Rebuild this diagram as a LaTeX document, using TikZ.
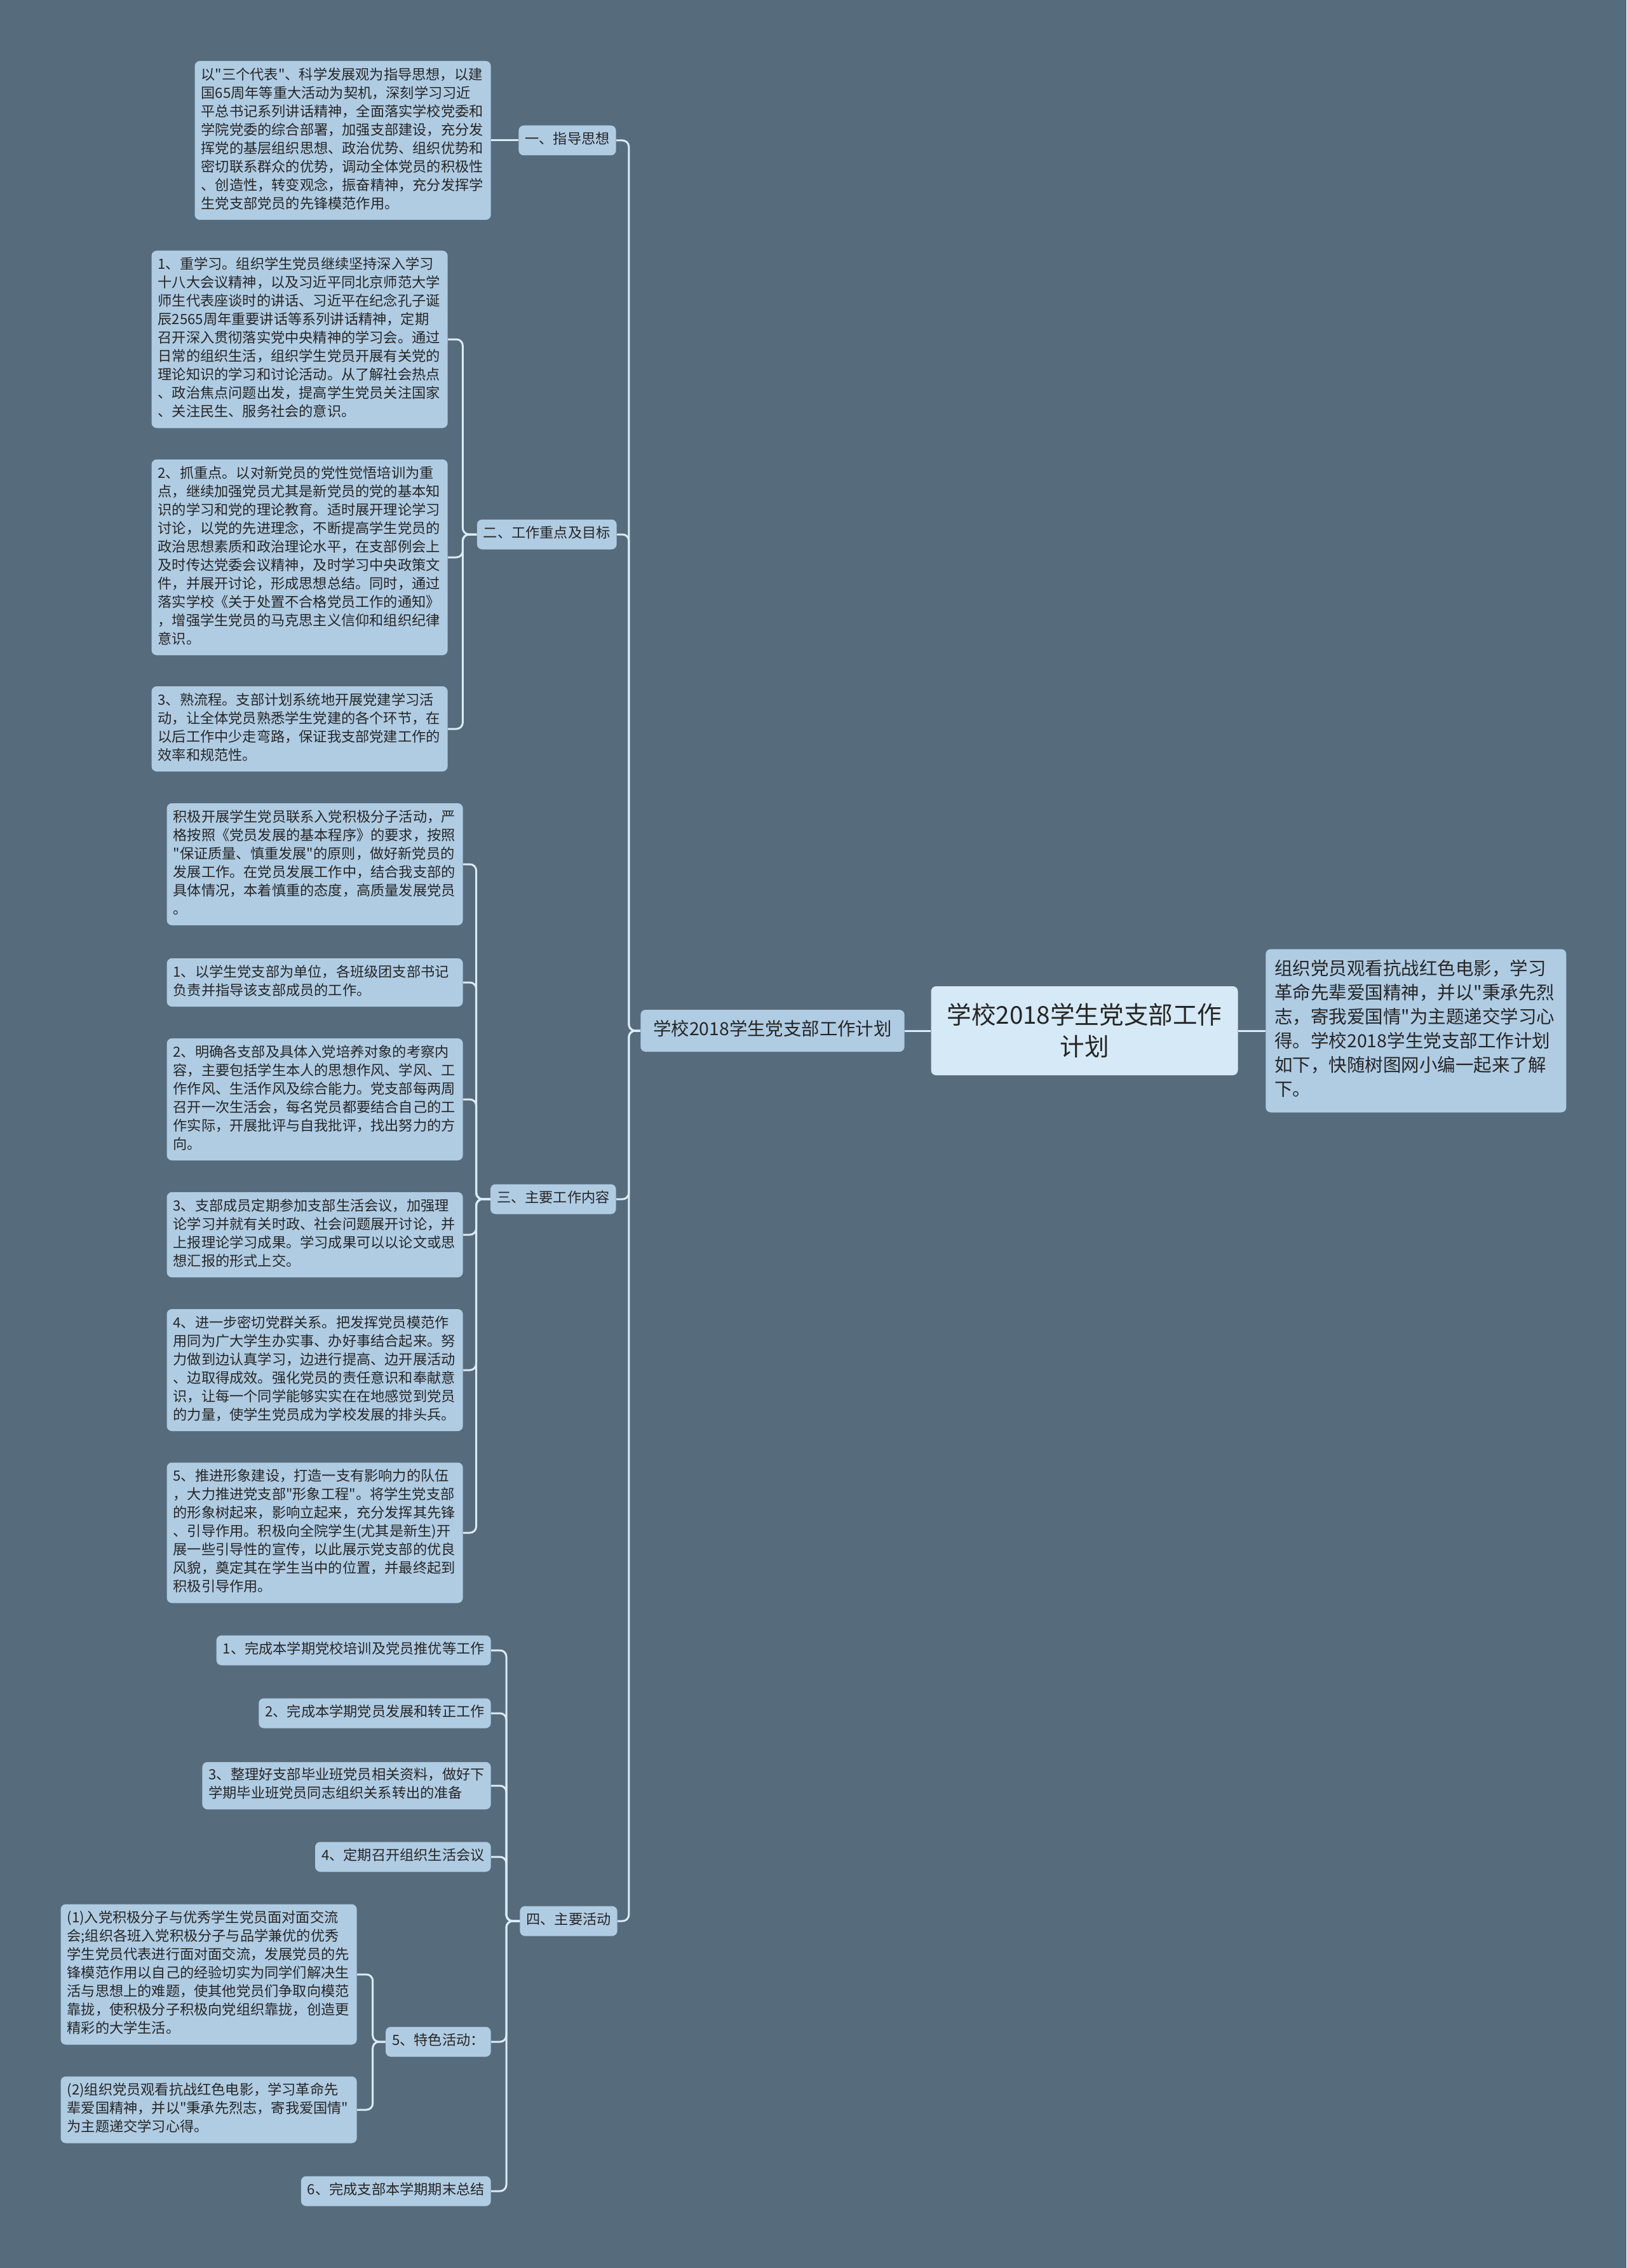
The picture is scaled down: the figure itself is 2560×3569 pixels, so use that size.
\documentclass[tikz,border=0pt]{standalone}
\usepackage{fontspec}
\setmainfont{Noto Sans CJK SC}[Ligatures=TeXOff]
\usetikzlibrary{positioning}
\definecolor{bgslate}{HTML}{566B7C}
\definecolor{boxblue}{HTML}{B0CCE3}
\definecolor{rootblue}{HTML}{D6E9F6}
\definecolor{linkblue}{HTML}{D9ECF8}
\definecolor{inkgray}{HTML}{262626}

\begin{document}
\begin{tikzpicture}[x=0.5pt, y=-0.5pt,
	card/.style={fill=boxblue, text=inkgray, rounded corners=4pt, inner xsep=5pt, inner ysep=4.5pt,
		font=\fontsize{11.1}{14.5}\selectfont, execute at begin node={\noindent\strut}, execute at end node={\strut}},
	para/.style={card, text width=223pt, align=left},
	link/.style={draw=linkblue, line width=1.5pt, rounded corners=5pt}]

		\fill[bgslate] (0,0) rectangle (2560,3569);
		\useasboundingbox (0,0) rectangle (2560,3569);

		% nodes - centre and first level %
		\node[fill=rootblue, text=inkgray, rounded corners=4pt, minimum width=241.5pt, minimum height=70pt, align=center,
			font=\fontsize{19.3}{25}\selectfont] (title) at (1707,1622) {学校2018学生党支部工作\\计划};
		\node[card, text width=222.5pt, align=left, inner xsep=7pt, inner ysep=7.25pt, font=\fontsize{14.25}{19}\selectfont,
			right=21.5pt of title] (intro) {组织党员观看抗战红色电影，学习\\革命先辈爱国精神，并以"秉承先烈\\志，寄我爱国情"为主题递交学习心\\得。学校2018学生党支部工作计划\\如下，快随树图网小编一起来了解\\下。};
		\node[card, inner xsep=10pt, inner ysep=7.5pt, font=\fontsize{14.2}{18}\selectfont, left=20.5pt of title] (hub) {学校2018学生党支部工作计划};

		% nodes - sections %
		\node[card, anchor=east] (s1) at (970,221) {一、指导思想};
		\node[card, anchor=east] (s2) at (971,841) {二、工作重点及目标};
		\node[card, anchor=east] (s3) at (970,1887) {三、主要工作内容};
		\node[card, anchor=east] (s4) at (972,3023) {四、主要活动};

		% nodes - guide %
		\node[para, anchor=east] (g1) at (773,221) {以"三个代表"、科学发展观为指导思想，以建\\国65周年等重大活动为契机，深刻学习习近\\平总书记系列讲话精神，全面落实学校党委和\\学院党委的综合部署，加强支部建设，充分发\\挥党的基层组织思想、政治优势、组织优势和\\密切联系群众的优势，调动全体党员的积极性\\、创造性，转变观念，振奋精神，充分发挥学\\生党支部党员的先锋模范作用。};

		% nodes - focus and goals %
		\node[para, anchor=east] (f1) at (705,534) {1、重学习。组织学生党员继续坚持深入学习\\十八大会议精神，以及习近平同北京师范大学\\师生代表座谈时的讲话、习近平在纪念孔子诞\\辰2565周年重要讲话等系列讲话精神，定期\\召开深入贯彻落实党中央精神的学习会。通过\\日常的组织生活，组织学生党员开展有关党的\\理论知识的学习和讨论活动。从了解社会热点\\、政治焦点问题出发，提高学生党员关注国家\\、关注民生、服务社会的意识。};
		\node[para, anchor=east] (f2) at (705,877) {2、抓重点。以对新党员的党性觉悟培训为重\\点，继续加强党员尤其是新党员的党的基本知\\识的学习和党的理论教育。适时展开理论学习\\讨论，以党的先进理念，不断提高学生党员的\\政治思想素质和政治理论水平，在支部例会上\\及时传达党委会议精神，及时学习中央政策文\\件，并展开讨论，形成思想总结。同时，通过\\落实学校《关于处置不合格党员工作的通知》\\，增强学生党员的马克思主义信仰和组织纪律\\意识。};
		\node[para, anchor=east] (f3) at (705,1147) {3、熟流程。支部计划系统地开展党建学习活\\动，让全体党员熟悉学生党建的各个环节，在\\以后工作中少走弯路，保证我支部党建工作的\\效率和规范性。};

		% nodes - main work %
		\node[para, anchor=east] (w0) at (729,1360) {积极开展学生党员联系入党积极分子活动，严\\格按照《党员发展的基本程序》的要求，按照\\"保证质量、慎重发展"的原则，做好新党员的\\发展工作。在党员发展工作中，结合我支部的\\具体情况，本着慎重的态度，高质量发展党员\\。};
		\node[para, anchor=east] (w1) at (729,1546) {1、以学生党支部为单位，各班级团支部书记\\负责并指导该支部成员的工作。};
		\node[para, anchor=east] (w2) at (729,1730) {2、明确各支部及具体入党培养对象的考察内\\容，主要包括学生本人的思想作风、学风、工\\作作风、生活作风及综合能力。党支部每两周\\召开一次生活会，每名党员都要结合自己的工\\作实际，开展批评与自我批评，找出努力的方\\向。};
		\node[para, anchor=east] (w3) at (729,1943) {3、支部成员定期参加支部生活会议，加强理\\论学习并就有关时政、社会问题展开讨论，并\\上报理论学习成果。学习成果可以以论文或思\\想汇报的形式上交。};
		\node[para, anchor=east] (w4) at (729,2156) {4、进一步密切党群关系。把发挥党员模范作\\用同为广大学生办实事、办好事结合起来。努\\力做到边认真学习，边进行提高、边开展活动\\、边取得成效。强化党员的责任意识和奉献意\\识，让每一个同学能够实实在在地感觉到党员\\的力量，使学生党员成为学校发展的排头兵。};
		\node[para, anchor=east] (w5) at (729,2412) {5、推进形象建设，打造一支有影响力的队伍\\，大力推进党支部"形象工程"。将学生党支部\\的形象树起来，影响立起来，充分发挥其先锋\\、引导作用。积极向全院学生(尤其是新生)开\\展一些引导性的宣传，以此展示党支部的优良\\风貌，奠定其在学生当中的位置，并最终起到\\积极引导作用。};

		% nodes - activities %
		\node[card, anchor=east] (a1) at (773,2597) {1、完成本学期党校培训及党员推优等工作};
		\node[card, anchor=east] (a2) at (773,2696) {2、完成本学期党员发展和转正工作};
		\node[card, anchor=east, align=left] (a3) at (773,2810) {3、整理好支部毕业班党员相关资料，做好下\\学期毕业班党员同志组织关系转出的准备};
		\node[card, anchor=east] (a4) at (773,2922) {4、定期召开组织生活会议};
		\node[card, anchor=east] (a5) at (773,3213) {5、特色活动：};
		\node[card, anchor=east] (a6) at (773,3448) {6、完成支部本学期期末总结};
		\node[para, anchor=east] (e1) at (562,3107) {(1)入党积极分子与优秀学生党员面对面交流\\会;组织各班入党积极分子与品学兼优的优秀\\学生党员代表进行面对面交流，发展党员的先\\锋模范作用以自己的经验切实为同学们解决生\\活与思想上的难题，使其他党员们争取向模范\\靠拢，使积极分子积极向党组织靠拢，创造更\\精彩的大学生活。};
		\node[para, anchor=east] (e2) at (562,3320) {(2)组织党员观看抗战红色电影，学习革命先\\辈爱国精神，并以"秉承先烈志，寄我爱国情"\\为主题递交学习心得。};

		% edges %
		\draw[link] (title.east) -- (intro.west);
		\draw[link] (title.west) -- (hub.east);
		\draw[link] (hub.west) -- ++(-18,0) |- (s1.east);
		\draw[link] (hub.west) -- ++(-18,0) |- (s2.east);
		\draw[link] (hub.west) -- ++(-18,0) |- (s3.east);
		\draw[link] (hub.west) -- ++(-18,0) |- (s4.east);
		\draw[link] (s1.west) -- (g1.east);
		\draw[link] (s2.west) -- ++(-22,0) |- (f1.east);
		\draw[link] (s2.west) -- ++(-22,0) |- (f2.east);
		\draw[link] (s2.west) -- ++(-22,0) |- (f3.east);
		\draw[link] (s3.west) -- ++(-22,0) |- (w0.east);
		\draw[link] (s3.west) -- ++(-22,0) |- (w1.east);
		\draw[link] (s3.west) -- ++(-22,0) |- (w2.east);
		\draw[link] (s3.west) -- ++(-22,0) |- (w3.east);
		\draw[link] (s3.west) -- ++(-22,0) |- (w4.east);
		\draw[link] (s3.west) -- ++(-22,0) |- (w5.east);
		\draw[link] (s4.west) -- ++(-21,0) |- (a1.east);
		\draw[link] (s4.west) -- ++(-21,0) |- (a2.east);
		\draw[link] (s4.west) -- ++(-21,0) |- (a3.east);
		\draw[link] (s4.west) -- ++(-21,0) |- (a4.east);
		\draw[link] (s4.west) -- ++(-21,0) |- (a5.east);
		\draw[link] (s4.west) -- ++(-21,0) |- (a6.east);
		\draw[link] (a5.west) -- ++(-20,0) |- (e1.east);
		\draw[link] (a5.west) -- ++(-20,0) |- (e2.east);

\end{tikzpicture}
\end{document}
